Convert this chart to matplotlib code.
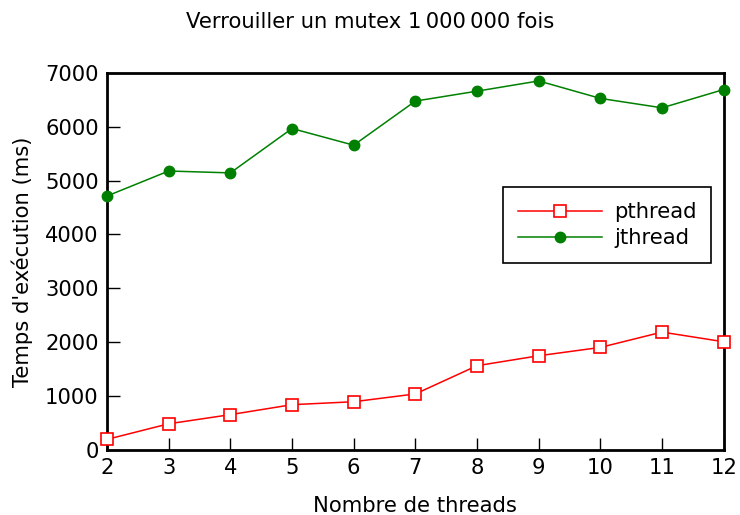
import matplotlib
matplotlib.use("Agg")
import matplotlib.pyplot as plt

# ----------------------------------------------------------------------------------------------------------------------
#  DATA
# ----------------------------------------------------------------------------------------------------------------------
threads  = [2, 3, 4, 5, 6, 7, 8, 9, 10, 11, 12]
pthread  = [190, 480, 650, 835, 890, 1035, 1560, 1745, 1900, 2185, 2005]
jthread  = [4715, 5180, 5145, 5970, 5660, 6480, 6665, 6855, 6530, 6355, 6695]
y_ticks  = [0, 1000, 2000, 3000, 4000, 5000, 6000, 7000]

title_text = "Verrouiller un mutex 1\u2009000\u2009000 fois"

# ----------------------------------------------------------------------------------------------------------------------
#  PLOT
# ----------------------------------------------------------------------------------------------------------------------
fs = 15.2
fig = plt.figure(figsize=(7.4, 5.15), dpi=100)
ax  = fig.add_axes([0.1446, 0.127, 0.8334, 0.731])

ax.plot(threads, pthread, color='red', marker='s', markersize=9, markerfacecolor='white',
        markeredgecolor='red', markeredgewidth=1.2, linewidth=1.1, label='pthread', clip_on=False, zorder=3)
ax.plot(threads, jthread, color='green', marker='o', markersize=7.5, markerfacecolor='green',
        markeredgecolor='green', linewidth=1.1, label='jthread', clip_on=False, zorder=3)

ax.set_xlim(2, 12)
ax.set_ylim(0, 7000)
ax.set_xticks(threads)
ax.set_yticks(y_ticks)
ax.tick_params(direction='in', length=9, width=1, labelsize=fs, top=False, right=False, pad=6)
for s in ax.spines.values():
    s.set_linewidth(2)

ax.set_xlabel('Nombre de threads', fontsize=fs, labelpad=13)
ax.set_ylabel("Temps d'exécution (ms)", fontsize=fs, labelpad=9)
fig.suptitle(title_text, fontsize=fs, y=0.977)

leg = ax.legend(loc='upper right', bbox_to_anchor=(0.98, 0.697), borderaxespad=0, fontsize=fs,
                fancybox=False, edgecolor='black', framealpha=1, handlelength=4.0,
                borderpad=0.7, labelspacing=0.3, handletextpad=0.55)
leg.get_frame().set_linewidth(1.2)

fig.savefig('out.png', dpi=100)
